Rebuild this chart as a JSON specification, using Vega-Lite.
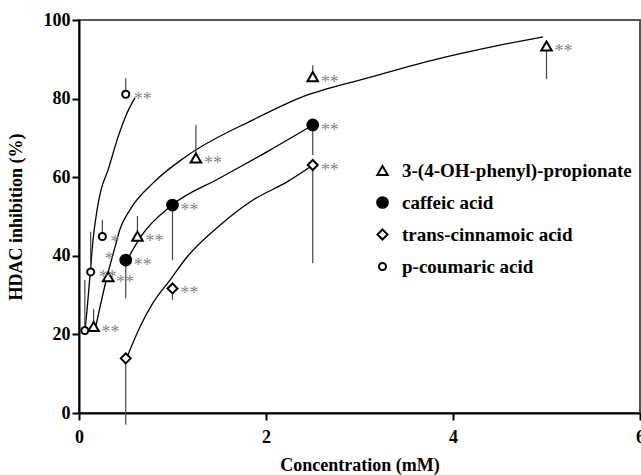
{
  "$schema": "https://vega.github.io/schema/vega-lite/v6.json",
  "width": 561,
  "height": 393,
  "autosize": {"type": "none"},
  "padding": {"left": 79, "top": 20, "right": 1, "bottom": 62},
  "background": "white",
  "config": {
    "view": {"stroke": "#555", "strokeWidth": 2},
    "font": "Liberation Serif",
    "axis": {
      "grid": false,
      "domainColor": "black",
      "domainWidth": 2,
      "tickColor": "black",
      "tickWidth": 2,
      "tickSize": 7,
      "labelFont": "Liberation Serif",
      "labelFontWeight": "bold",
      "labelFontSize": 18,
      "labelColor": "black",
      "labelFlush": false,
      "labelOverlap": false,
      "titleFont": "Liberation Serif",
      "titleFontWeight": "bold",
      "titleFontSize": 18,
      "titleColor": "black"
    },
    "legend": {
      "orient": "none",
      "legendX": 294,
      "legendY": 141,
      "labelFont": "Liberation Serif",
      "labelFontWeight": "bold",
      "labelFontSize": 19,
      "labelColor": "black",
      "labelLimit": 0,
      "rowPadding": 12,
      "labelOffset": 10,
      "title": null
    }
  },
  "datasets": {
    "points": [
      {"series": "3-(4-OH-phenyl)-propionate", "conc": 0.156, "inhib": 22.0, "err": 26.5, "sig": "**"},
      {"series": "3-(4-OH-phenyl)-propionate", "conc": 0.3125, "inhib": 34.7, "err": null, "sig": "**"},
      {"series": "3-(4-OH-phenyl)-propionate", "conc": 0.625, "inhib": 45.0, "err": 50.1, "sig": "**"},
      {"series": "3-(4-OH-phenyl)-propionate", "conc": 1.25, "inhib": 64.9, "err": 73.3, "sig": "**"},
      {"series": "3-(4-OH-phenyl)-propionate", "conc": 2.5, "inhib": 85.6, "err": 88.5, "sig": "**"},
      {"series": "3-(4-OH-phenyl)-propionate", "conc": 5.0, "inhib": 93.4, "err": 85.0, "sig": "**"},
      {"series": "caffeic acid", "conc": 0.5, "inhib": 38.9, "err": 29.2, "sig": "**"},
      {"series": "caffeic acid", "conc": 1.0, "inhib": 52.9, "err": 38.9, "sig": "**"},
      {"series": "caffeic acid", "conc": 2.5, "inhib": 73.3, "err": 65.6, "sig": "**"},
      {"series": "trans-cinnamoic acid", "conc": 0.5, "inhib": 13.9, "err": -3.0, "sig": ""},
      {"series": "trans-cinnamoic acid", "conc": 1.0, "inhib": 31.7, "err": 28.8, "sig": "**"},
      {"series": "trans-cinnamoic acid", "conc": 2.5, "inhib": 63.1, "err": 38.1, "sig": "**"},
      {"series": "p-coumaric acid", "conc": 0.0625, "inhib": 21.0, "err": 33.8, "sig": ""},
      {"series": "p-coumaric acid", "conc": 0.125, "inhib": 35.9, "err": 46.1, "sig": "**"},
      {"series": "p-coumaric acid", "conc": 0.25, "inhib": 44.9, "err": 49.1, "sig": "*"},
      {"series": "p-coumaric acid", "conc": 0.5, "inhib": 81.1, "err": 85.2, "sig": "**"}
    ],
    "curves": [
      {"series": "p-coumaric acid", "ord": 1, "conc": 0.064, "inhib": 20.9},
      {"series": "p-coumaric acid", "ord": 2, "conc": 0.086, "inhib": 26.2},
      {"series": "p-coumaric acid", "ord": 3, "conc": 0.118, "inhib": 35.1},
      {"series": "p-coumaric acid", "ord": 4, "conc": 0.150, "inhib": 44.0},
      {"series": "p-coumaric acid", "ord": 5, "conc": 0.193, "inhib": 51.7},
      {"series": "p-coumaric acid", "ord": 6, "conc": 0.235, "inhib": 56.7},
      {"series": "p-coumaric acid", "ord": 7, "conc": 0.310, "inhib": 61.8},
      {"series": "p-coumaric acid", "ord": 8, "conc": 0.417, "inhib": 70.2},
      {"series": "p-coumaric acid", "ord": 9, "conc": 0.513, "inhib": 76.3},
      {"series": "p-coumaric acid", "ord": 10, "conc": 0.599, "inhib": 80.2},
      {"series": "3-(4-OH-phenyl)-propionate", "ord": 1, "conc": 0.171, "inhib": 21.1},
      {"series": "3-(4-OH-phenyl)-propionate", "ord": 2, "conc": 0.225, "inhib": 27.0},
      {"series": "3-(4-OH-phenyl)-propionate", "ord": 3, "conc": 0.299, "inhib": 34.6},
      {"series": "3-(4-OH-phenyl)-propionate", "ord": 4, "conc": 0.385, "inhib": 42.2},
      {"series": "3-(4-OH-phenyl)-propionate", "ord": 5, "conc": 0.439, "inhib": 46.8},
      {"series": "3-(4-OH-phenyl)-propionate", "ord": 6, "conc": 0.545, "inhib": 51.7},
      {"series": "3-(4-OH-phenyl)-propionate", "ord": 7, "conc": 0.791, "inhib": 58.5},
      {"series": "3-(4-OH-phenyl)-propionate", "ord": 8, "conc": 1.134, "inhib": 65.1},
      {"series": "3-(4-OH-phenyl)-propionate", "ord": 9, "conc": 1.861, "inhib": 74.6},
      {"series": "3-(4-OH-phenyl)-propionate", "ord": 10, "conc": 2.364, "inhib": 80.2},
      {"series": "3-(4-OH-phenyl)-propionate", "ord": 11, "conc": 3.080, "inhib": 85.2},
      {"series": "3-(4-OH-phenyl)-propionate", "ord": 12, "conc": 3.786, "inhib": 89.8},
      {"series": "3-(4-OH-phenyl)-propionate", "ord": 13, "conc": 4.503, "inhib": 93.6},
      {"series": "3-(4-OH-phenyl)-propionate", "ord": 14, "conc": 4.963, "inhib": 95.7},
      {"series": "caffeic acid", "ord": 1, "conc": 0.513, "inhib": 38.9},
      {"series": "caffeic acid", "ord": 2, "conc": 0.674, "inhib": 45.3},
      {"series": "caffeic acid", "ord": 3, "conc": 0.995, "inhib": 52.9},
      {"series": "caffeic acid", "ord": 4, "conc": 1.508, "inhib": 59.8},
      {"series": "caffeic acid", "ord": 5, "conc": 2.043, "inhib": 66.9},
      {"series": "caffeic acid", "ord": 6, "conc": 2.503, "inhib": 73.3},
      {"series": "trans-cinnamoic acid", "ord": 1, "conc": 0.513, "inhib": 14.2},
      {"series": "trans-cinnamoic acid", "ord": 2, "conc": 0.652, "inhib": 21.9},
      {"series": "trans-cinnamoic acid", "ord": 3, "conc": 0.791, "inhib": 28.0},
      {"series": "trans-cinnamoic acid", "ord": 4, "conc": 0.973, "inhib": 33.8},
      {"series": "trans-cinnamoic acid", "ord": 5, "conc": 1.155, "inhib": 39.7},
      {"series": "trans-cinnamoic acid", "ord": 6, "conc": 1.508, "inhib": 47.8},
      {"series": "trans-cinnamoic acid", "ord": 7, "conc": 1.861, "inhib": 54.2},
      {"series": "trans-cinnamoic acid", "ord": 8, "conc": 2.225, "inhib": 58.8},
      {"series": "trans-cinnamoic acid", "ord": 9, "conc": 2.503, "inhib": 63.1}
    ],
    "notes": [
      {"conc": 0.32, "inhib": 40.5, "sig": "*"}
    ]
  },
  "layer": [
    {
      "data": {"name": "curves"},
      "mark": {"type": "line", "color": "black", "strokeWidth": 1.3, "interpolate": "monotone"},
      "encoding": {
        "x": {"field": "conc", "type": "quantitative", "scale": {"domain": [0, 6], "nice": false},
          "axis": {"values": [0, 2, 4, 6], "format": "d", "title": "Concentration (mM)", "labelPadding": 8, "titlePadding": 10}},
        "y": {"field": "inhib", "type": "quantitative", "scale": {"domain": [0, 100], "nice": false},
          "axis": {"values": [0, 20, 40, 60, 80, 100], "format": "d", "title": "HDAC inhibition (%)", "labelPadding": 2, "titlePadding": 18}},
        "detail": {"field": "series"},
        "order": {"field": "ord", "type": "quantitative"}
      }
    },
    {
      "data": {"name": "points"},
      "transform": [{"filter": "datum.err != null"}],
      "mark": {"type": "rule", "color": "#444", "strokeWidth": 1.2},
      "encoding": {
        "x": {"field": "conc", "type": "quantitative"},
        "y": {"field": "inhib", "type": "quantitative"},
        "y2": {"field": "err"}
      }
    },
    {
      "data": {"name": "points"},
      "mark": {"type": "point", "filled": true, "stroke": "black", "strokeWidth": 2, "opacity": 1},
      "encoding": {
        "x": {"field": "conc", "type": "quantitative"},
        "y": {"field": "inhib", "type": "quantitative"},
        "shape": {"field": "series", "type": "nominal",
          "scale": {"domain": ["3-(4-OH-phenyl)-propionate", "caffeic acid", "trans-cinnamoic acid", "p-coumaric acid"],
            "range": ["triangle-up", "circle", "diamond", "circle"]}},
        "fill": {"field": "series", "type": "nominal",
          "scale": {"domain": ["3-(4-OH-phenyl)-propionate", "caffeic acid", "trans-cinnamoic acid", "p-coumaric acid"],
            "range": ["white", "black", "white", "white"]},
          "legend": {"symbolStrokeColor": "black", "symbolStrokeWidth": 2,
            "encode": {"symbols": {"update": {"stroke": {"value": "black"}, "strokeWidth": {"value": 2}}}}}},
        "size": {"field": "series", "type": "nominal",
          "scale": {"type": "ordinal", "domain": ["3-(4-OH-phenyl)-propionate", "caffeic acid", "trans-cinnamoic acid", "p-coumaric acid"],
            "range": [110, 115, 100, 50]}}
      }
    },
    {
      "data": {"name": "points"},
      "mark": {"type": "text", "align": "left", "baseline": "alphabetic", "dx": 8, "dy": 11, "fontSize": 18, "color": "#888", "font": "Liberation Serif"},
      "encoding": {
        "x": {"field": "conc", "type": "quantitative"},
        "y": {"field": "inhib", "type": "quantitative"},
        "text": {"field": "sig"}
      }
    },
    {
      "data": {"name": "notes"},
      "mark": {"type": "text", "align": "center", "baseline": "alphabetic", "dy": 11, "fontSize": 18, "color": "#888", "font": "Liberation Serif"},
      "encoding": {
        "x": {"field": "conc", "type": "quantitative"},
        "y": {"field": "inhib", "type": "quantitative"},
        "text": {"field": "sig"}
      }
    }
  ]
}
